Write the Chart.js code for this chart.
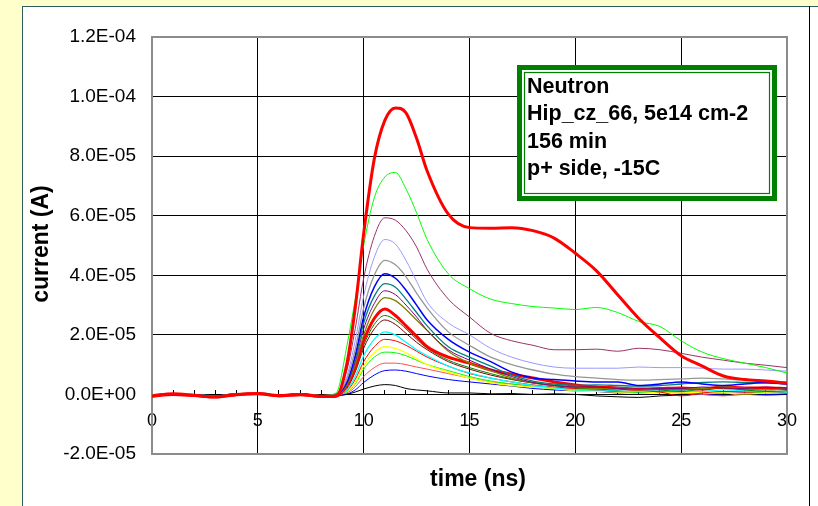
<!DOCTYPE html>
<html>
<head>
<meta charset="utf-8">
<title>current vs time</title>
<script src="https://cdn.jsdelivr.net/npm/chart.js@4.4.1/dist/chart.umd.min.js"></script>
<style>
  html, body { margin: 0; padding: 0; background: #FFFFCC; }
  #frame { position: absolute; left: 22px; top: 6px; width: 796px; height: 500px; background: #fff;
           border-left: 1px solid #2E5E5E; border-top: 1px solid #2E5E5E; box-sizing: border-box; }
  #rule { position: absolute; left: 809px; top: 6px; width: 1px; height: 500px; background: #000; }
  #chart { position: absolute; left: 0; top: 0; }
</style>
</head>
<body>
<div id="frame"></div>
<div id="rule"></div>
<canvas id="chart" width="818" height="506"></canvas>
<script>
// time axis (ns), shared by every trace
const times = [0, 1, 2, 3, 4, 5, 6, 7, 8, 8.7, 9.2, 9.6, 10, 10.5, 11, 11.5, 12, 12.5, 13,
               14, 15, 16, 17, 18, 19, 20, 21, 22, 23, 24, 25, 26, 27, 28, 29, 30];

// currents, in units of 1e-5 A
const redBig    = [-0.05, 0.02, -0.03, -0.08, 0.00, 0.03, -0.04, 0.00, -0.06, -0.05, 1.00, 2.90, 5.40, 7.90, 9.20, 9.62, 9.45, 8.60, 7.50,
                   6.05, 5.60, 5.58, 5.60, 5.50, 5.25, 4.74, 4.15, 3.35, 2.55, 1.90, 1.30, 0.95, 0.62, 0.50, 0.45, 0.38];
const greenBig  = [0.00, 0.03, -0.02, -0.05, 0.02, 0.03, -0.02, 0.01, -0.04, 0.05, 1.60, 3.20, 5.00, 6.60, 7.30, 7.45, 6.90, 6.10, 5.20,
                   4.05, 3.55, 3.20, 3.05, 2.95, 2.90, 2.85, 2.92, 2.75, 2.45, 2.28, 1.80, 1.42, 1.20, 1.05, 0.90, 0.72];
const plum      = [-0.02, 0.02, -0.04, -0.06, 0.01, 0.02, -0.03, 0.02, -0.05, 0.00, 0.80, 2.20, 3.90, 5.30, 5.93, 5.85, 5.50, 4.95, 4.20,
                   3.20, 2.60, 2.05, 1.80, 1.65, 1.50, 1.50, 1.52, 1.45, 1.55, 1.50, 1.38, 1.25, 1.15, 1.05, 0.98, 0.90];
const lavender  = [-0.03, 0.01, -0.02, -0.07, 0.00, 0.04, -0.03, 0.01, -0.04, 0.00, 0.60, 1.80, 3.30, 4.60, 5.20, 5.05, 4.50, 3.80, 3.10,
                   2.40, 2.00, 1.55, 1.25, 1.05, 0.92, 0.88, 0.88, 0.88, 0.92, 0.90, 0.90, 0.88, 0.85, 0.85, 0.82, 0.78];
const grey      = [-0.02, 0.02, -0.03, -0.06, 0.01, 0.03, -0.02, 0.00, -0.05, 0.00, 0.50, 1.50, 2.90, 4.00, 4.50, 4.35, 3.95, 3.40, 2.90,
                   2.10, 1.65, 1.25, 1.00, 0.82, 0.68, 0.60, 0.55, 0.50, 0.48, 0.50, 0.52, 0.55, 0.52, 0.48, 0.45, 0.42];
const blue      = [-0.04, 0.01, -0.03, -0.05, 0.02, 0.02, -0.04, 0.02, -0.05, 0.00, 0.40, 1.30, 2.60, 3.60, 4.05, 3.90, 3.50, 3.00, 2.50,
                   1.85, 1.42, 1.10, 0.75, 0.55, 0.50, 0.45, 0.42, 0.42, 0.30, 0.35, 0.42, 0.35, 0.30, 0.35, 0.40, 0.35];
const teal      = [-0.03, 0.02, -0.02, -0.06, 0.00, 0.03, -0.03, 0.01, -0.06, 0.00, 0.40, 1.20, 2.40, 3.30, 3.72, 3.60, 3.20, 2.75, 2.30,
                   1.60, 1.25, 0.95, 0.65, 0.45, 0.35, 0.30, 0.32, 0.30, 0.28, 0.30, 0.35, 0.40, 0.42, 0.40, 0.38, 0.35];
const purple    = [-0.02, 0.03, -0.03, -0.07, 0.01, 0.02, -0.02, 0.00, -0.04, 0.00, 0.35, 1.10, 2.20, 3.05, 3.48, 3.35, 3.00, 2.60, 2.15,
                   1.50, 1.15, 0.85, 0.60, 0.40, 0.30, 0.25, 0.25, 0.20, 0.18, 0.20, 0.20, 0.25, 0.22, 0.20, 0.25, 0.20];
const olive     = [-0.04, 0.01, -0.02, -0.05, 0.02, 0.03, -0.03, 0.03, -0.05, 0.00, 0.30, 1.00, 2.00, 2.85, 3.25, 3.15, 2.85, 2.50, 2.15,
                   1.45, 1.05, 0.80, 0.55, 0.40, 0.30, 0.25, 0.20, 0.22, 0.15, 0.20, 0.18, 0.20, 0.25, 0.20, 0.15, 0.20];
const redSmall  = [-0.06, 0.00, -0.04, -0.09, -0.01, 0.02, -0.05, -0.01, -0.07, -0.06, 0.30, 0.90, 1.80, 2.55, 2.87, 2.65, 2.30, 1.95, 1.60,
                   1.25, 1.05, 0.82, 0.68, 0.55, 0.42, 0.32, 0.25, 0.22, 0.18, 0.20, 0.22, 0.18, 0.25, 0.22, 0.22, 0.20];
const darkGreen = [-0.02, 0.02, -0.03, -0.06, 0.01, 0.02, -0.03, 0.01, -0.04, 0.00, 0.25, 0.80, 1.65, 2.35, 2.65, 2.50, 2.20, 1.85, 1.55,
                   1.15, 0.90, 0.70, 0.52, 0.40, 0.30, 0.22, 0.18, 0.15, 0.20, 0.15, 0.10, 0.18, 0.20, 0.15, 0.10, 0.12];
const darkRed   = [-0.03, 0.01, -0.02, -0.05, 0.00, 0.03, -0.02, 0.00, -0.05, 0.00, 0.20, 0.75, 1.55, 2.20, 2.50, 2.35, 2.05, 1.75, 1.50,
                   1.10, 0.85, 0.65, 0.50, 0.38, 0.30, 0.25, 0.20, 0.22, 0.18, 0.20, 0.15, 0.20, 0.22, 0.18, 0.20, 0.15];
const cyan      = [-0.02, 0.03, -0.01, -0.05, 0.01, 0.04, -0.02, 0.01, -0.04, 0.00, 0.15, 0.60, 1.30, 1.85, 2.10, 2.00, 1.75, 1.50, 1.30,
                   0.95, 0.72, 0.55, 0.42, 0.30, 0.22, 0.15, 0.15, 0.12, 0.10, 0.15, 0.12, 0.10, 0.15, 0.12, 0.10, 0.08];
const red       = [-0.03, 0.02, -0.03, -0.06, 0.00, 0.02, -0.03, 0.01, -0.05, 0.00, 0.12, 0.50, 1.10, 1.60, 1.85, 1.80, 1.65, 1.45, 1.25,
                   0.95, 0.70, 0.55, 0.42, 0.32, 0.25, 0.20, 0.15, 0.10, 0.12, 0.08, -0.05, 0.05, 0.10, 0.08, 0.10, 0.05];
const yellow    = [-0.02, 0.01, -0.02, -0.05, 0.01, 0.03, -0.02, 0.00, -0.04, 0.00, 0.10, 0.40, 0.95, 1.40, 1.60, 1.55, 1.40, 1.20, 1.00,
                   0.75, 0.55, 0.40, 0.30, 0.25, 0.20, 0.12, 0.10, 0.08, 0.10, 0.05, 0.05, 0.08, 0.05, 0.02, 0.05, 0.08];
const green     = [-0.03, 0.02, -0.04, -0.07, 0.00, 0.02, -0.04, 0.01, -0.05, 0.00, 0.08, 0.35, 0.85, 1.25, 1.42, 1.40, 1.30, 1.15, 1.00,
                   0.80, 0.60, 0.45, 0.35, 0.25, 0.20, 0.15, 0.10, 0.10, 0.05, 0.08, 0.10, 0.05, 0.08, 0.10, 0.05, 0.05];
const salmon    = [-0.02, 0.02, -0.02, -0.06, 0.01, 0.03, -0.03, 0.00, -0.05, 0.00, 0.05, 0.25, 0.60, 0.90, 1.05, 1.05, 1.00, 0.92, 0.85,
                   0.70, 0.55, 0.42, 0.35, 0.28, 0.22, 0.18, 0.12, 0.10, 0.12, 0.08, 0.05, 0.00, -0.05, 0.05, 0.08, 0.05];
const blueLow   = [-0.03, 0.01, -0.03, -0.05, 0.00, 0.02, -0.02, 0.01, -0.04, 0.00, 0.02, 0.15, 0.40, 0.65, 0.80, 0.82, 0.78, 0.70, 0.62,
                   0.50, 0.42, 0.35, 0.28, 0.20, 0.15, 0.12, 0.10, 0.05, 0.08, 0.10, 0.05, 0.00, 0.02, 0.05, 0.00, 0.02];
const black     = [-0.02, 0.02, -0.02, -0.05, 0.01, 0.02, -0.02, 0.00, -0.04, -0.05, 0.00, 0.08, 0.18, 0.28, 0.33, 0.30, 0.20, 0.15, 0.12,
                   0.05, 0.05, 0.02, 0.03, 0.00, 0.02, 0.00, -0.05, -0.08, -0.10, -0.05, -0.02, 0.00, -0.03, 0.00, -0.02, 0.00];

// axis ticks
const yTicks = [-2, 0, 2, 4, 6, 8, 10, 12];
const yTickLabels = ["-2.0E-05", "0.0E+00", "2.0E-05", "4.0E-05", "6.0E-05", "8.0E-05", "1.0E-04", "1.2E-04"];
const xTickLabels = ["0", "5", "10", "15", "20", "25", "30"];

const noteLines = ["Neutron", "Hip_cz_66, 5e14 cm-2", "156 min", "p+ side, -15C"];

const FONT = "'Liberation Sans', Arial, sans-serif";

// first entry ends up on top in chart.js
const traces = [
    { name: "redBig", data: redBig, color: "#FF0000", width: 3 },
    { name: "greenBig", data: greenBig, color: "#00FF00", width: 1 },
    { name: "plum", data: plum, color: "#993366", width: 1 },
    { name: "lavender", data: lavender, color: "#9999FF", width: 1 },
    { name: "grey", data: grey, color: "#969696", width: 1.3 },
    { name: "blue", data: blue, color: "#0000FF", width: 1.5 },
    { name: "teal", data: teal, color: "#008080", width: 1.3 },
    { name: "purple", data: purple, color: "#800080", width: 1 },
    { name: "olive", data: olive, color: "#808000", width: 1.3 },
    { name: "redSmall", data: redSmall, color: "#FF0000", width: 3 },
    { name: "darkGreen", data: darkGreen, color: "#008000", width: 1 },
    { name: "darkRed", data: darkRed, color: "#800000", width: 1 },
    { name: "cyan", data: cyan, color: "#00FFFF", width: 1.3 },
    { name: "red", data: red, color: "#FF0000", width: 1 },
    { name: "yellow", data: yellow, color: "#FFFF00", width: 1.3 },
    { name: "green", data: green, color: "#00FF00", width: 1 },
    { name: "salmon", data: salmon, color: "#FF5050", width: 1 },
    { name: "blueLow", data: blueLow, color: "#0000FF", width: 1 },
    { name: "black", data: black, color: "#000000", width: 1 }
];

// plot frame, axis titles and the note box
const decorations = {
    id: "decorations",
    beforeDatasetsDraw(chart) {
        const { ctx, chartArea: a } = chart;
        ctx.save();
        ctx.strokeStyle = "#8C8C8C";
        ctx.lineWidth = 2;
        ctx.strokeRect(a.left, a.top, a.right - a.left, a.bottom - a.top);
        ctx.restore();
    },
    afterDraw(chart) {
        const { ctx } = chart;
        ctx.save();
        ctx.fillStyle = "#000";
        ctx.font = "bold 23px " + FONT;
        ctx.textAlign = "center";
        ctx.textBaseline = "middle";
        ctx.fillText("time (ns)", 478, 480);
        ctx.translate(42, 244);
        ctx.rotate(-Math.PI / 2);
        ctx.fillText("current (A)", 0, 0);
        ctx.restore();

        // note box with double green border
        const bx = 517, by = 65, bw = 260, bh = 136;
        ctx.save();
        ctx.fillStyle = "#fff";
        ctx.fillRect(bx, by, bw, bh);
        ctx.strokeStyle = "#008000";
        ctx.lineWidth = 5;
        ctx.strokeRect(bx + 2.5, by + 2.5, bw - 5, bh - 5);
        ctx.lineWidth = 1.2;
        ctx.strokeRect(bx + 7.5, by + 7.5, bw - 15, bh - 15);
        ctx.fillStyle = "#000";
        ctx.font = "bold 21.5px " + FONT;
        ctx.textAlign = "left";
        ctx.textBaseline = "middle";
        noteLines.forEach((t, i) => ctx.fillText(t, 527, 87 + i * 27.4));
        ctx.restore();
    }
};

const ctx = document.getElementById("chart").getContext("2d");
new Chart(ctx, {
    type: "line",
    data: {
        datasets: traces.map(t => ({
            label: t.name,
            data: times.map((x, i) => ({ x: x, y: t.data[i] })),
            borderColor: t.color,
            borderWidth: t.width,
            pointRadius: 0,
            cubicInterpolationMode: "monotone",
            fill: false
        }))
    },
    options: {
        responsive: false,
        animation: false,
        events: [],
        layout: { padding: { left: 22, top: 37, right: 29, bottom: 52 } },
        plugins: { legend: { display: false }, tooltip: { enabled: false } },
        scales: {
            x: {
                type: "linear",
                position: { y: 0 },
                min: 0,
                max: 30,
                afterFit: s => { s.height = 0; },
                ticks: {
                    stepSize: 1,
                    autoSkip: false,
                    maxRotation: 0,
                    padding: 21,
                    color: "#000",
                    font: { family: FONT, size: 18 },
                    callback: v => (v % 5 === 0 ? xTickLabels[v / 5] : "")
                },
                grid: {
                    color: c => (c.tick.value % 5 !== 0 ? "rgba(0,0,0,0)" :
                                 (c.tick.value === 0 || c.tick.value === 30 ? "#8C8C8C" : "#000")),
                    tickColor: "#000",
                    tickLength: -5,
                    lineWidth: 1
                },
                border: { color: "#000", width: 1 }
            },
            y: {
                min: -2,
                max: 12,
                afterFit: s => { s.width = 130; },
                ticks: {
                    stepSize: 2,
                    padding: 16,
                    color: "#000",
                    font: { family: FONT, size: 19 },
                    callback: v => yTickLabels[yTicks.indexOf(v)]
                },
                grid: {
                    color: c => (c.tick.value === 12 || c.tick.value === -2 ? "#8C8C8C" : "#000"),
                    drawTicks: false,
                    lineWidth: 1
                },
                border: { color: "#555", width: 2 }
            }
        }
    },
    plugins: [decorations]
});
</script>
</body>
</html>
